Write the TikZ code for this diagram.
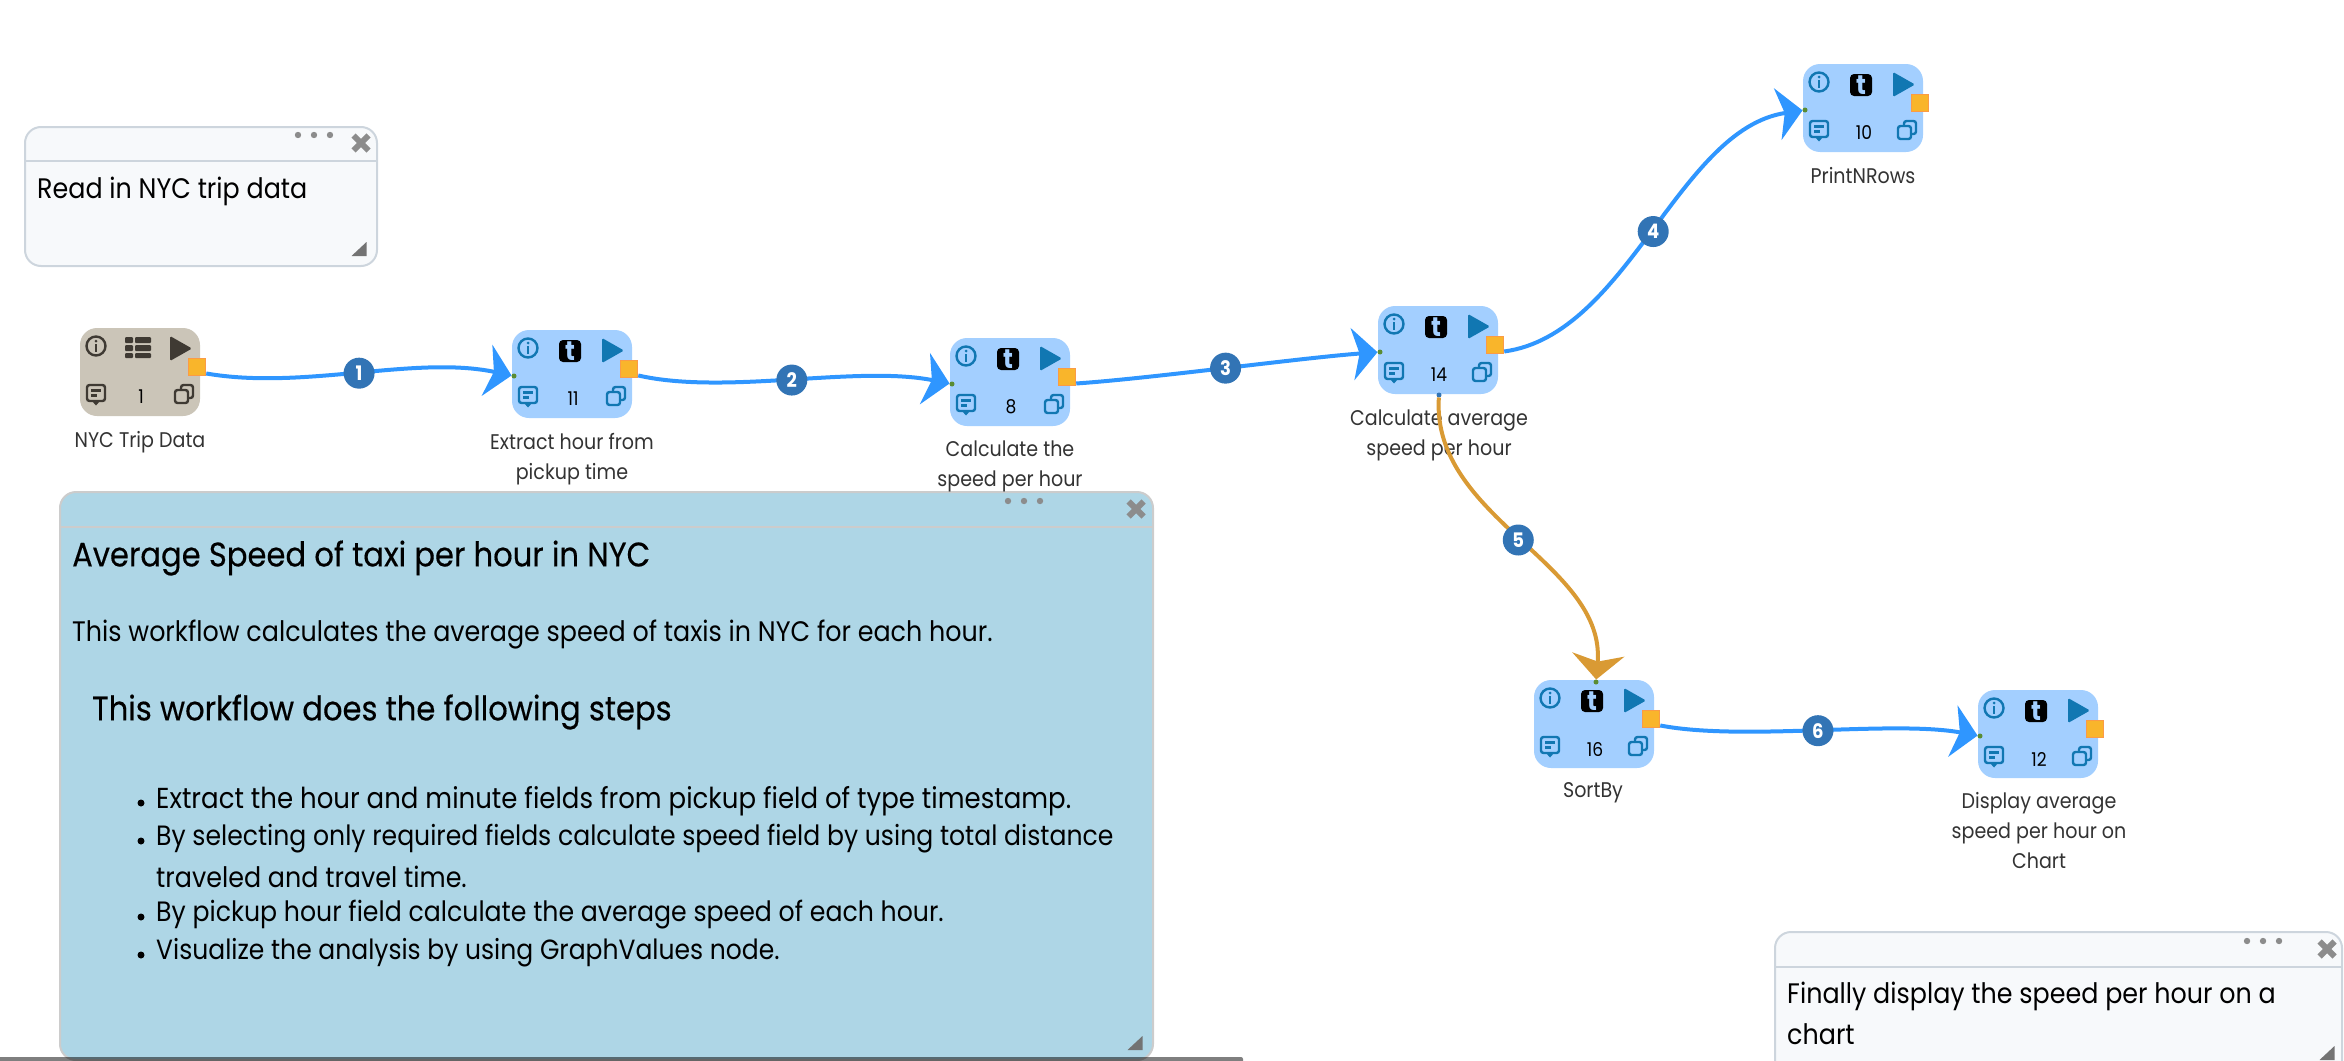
\documentclass[tikz,border=0pt]{standalone}
\usepackage{fontspec}
\setmainfont[FakeStretch=0.9]{Poppins}
\newfontface\headfont[FakeStretch=0.9,FakeBold=0.3]{Poppins}
\usetikzlibrary{arrows.meta,shapes.geometric}

\definecolor{flowblue}{RGB}{47,150,255}
\definecolor{flowgold}{RGB}{217,154,52}
\definecolor{badgeblue}{RGB}{50,116,181}
\definecolor{boxblue}{RGB}{163,207,255}
\definecolor{boxgray}{RGB}{203,197,184}
\definecolor{iconblue}{RGB}{17,119,178}
\definecolor{icongray}{RGB}{63,58,51}
\definecolor{portfill}{RGB}{249,181,43}
\definecolor{portedge}{RGB}{251,155,70}
\definecolor{notefill}{RGB}{247,249,251}
\definecolor{noteedge}{RGB}{205,213,221}
\definecolor{bigfill}{RGB}{174,214,230}
\definecolor{portgreen}{RGB}{90,140,50}

\tikzset{
  wfbox/.style={rounded corners=17pt,minimum width=120pt,minimum height=88pt,inner sep=0pt,outer sep=0pt},
  wfport/.style={draw=portedge,line width=1.5pt,fill=portfill,minimum size=17pt,inner sep=0pt},
  wfdot/.style={circle,fill=#1,minimum size=5pt,inner sep=0pt,outer sep=0pt},
  wflabel/.style={font=\fontsize{21.2}{30}\selectfont,text=black!80,align=center,inner sep=0pt},
  wfnum/.style={font=\fontsize{19}{20}\selectfont,inner sep=0pt},
  flowline/.style={line width=4pt,flowblue,-{Stealth[length=25pt,width=52pt,inset=7pt]}},
  goldline/.style={flowline,flowgold},
  badge/.style={circle,fill=badgeblue,text=white,minimum size=31pt,inner sep=0pt,font=\fontsize{20}{20}\selectfont\bfseries},
  notebox/.style={draw=noteedge,line width=2pt,fill=notefill,rounded corners=16pt,anchor=north west,inner sep=0pt,outer sep=0pt},
  notetext/.style={font=\fontsize{28.2}{38}\selectfont,anchor=west,inner sep=0pt,align=left},
  notehead/.style={notetext,font=\fontsize{34}{38}\headfont},
  notemark/.style={line width=6pt,black!45},
}

% #1 name, #2 number, #3 box colour, #4 icon colour
\newcommand{\wficons}[4]{%
  \node[wfbox,fill=#3] (#1) at (0,0) {};
  \draw[#4,line width=2.4pt] (-44,-26) circle (9.5);
  \fill[#4] (-44,-31) circle (1.5);
  \draw[#4,line width=2.4pt] (-44,-28) -- (-44,-20);
  \fill[#4,rounded corners=1.5pt] (30,-36) -- (52,-23.5) -- (30,-11) -- cycle;
  \draw[#4,line width=2.4pt,rounded corners=2.5pt] (-53,13) rectangle (-35,29);
  \fill[#4] (-48,29) -- (-44,33.5) -- (-40,29) -- cycle;
  \draw[#4,line width=2.2pt] (-49,18.5) -- (-39,18.5) (-49,23.5) -- (-43,23.5);
  \draw[#4,line width=2.4pt,rounded corners=2.5pt] (41,18) -- (41,13) -- (53,13) -- (53,26) -- (48,26);
  \draw[#4,line width=2.4pt,rounded corners=2.5pt] (35,18) rectangle (48,31);
  \node[wfnum] (#1num) at (1,25) {#2};
  \node[wfport] (#1out) at (57,-5) {};
}
\newcommand{\tlogo}[1]{%
  \node[fill=black,rounded corners=4pt,minimum size=22pt,inner sep=0pt,text=boxblue,font=\fontsize{27}{22}\selectfont\bfseries] (#1logo) at (-2,-23) {t};
}
% close mark at #1,#2 and three dots, the first one #3 to the left
\newcommand{\notemarks}[3]{%
  \draw[notemark] (#1-7.5,#2-7.5) -- (#1+7.5,#2+7.5) (#1+7.5,#2-7.5) -- (#1-7.5,#2+7.5);
  \foreach \d in {0,16,32} \fill[black!45] (#1-#3+\d,#2-8) circle (3.2);
}
\newcommand{\notegrip}[2]{%
  \fill[black!55] (#1+7.5,#2-7) -- (#1+7.5,#2+7) -- (#1-7.5,#2+7) -- cycle;
}

\begin{document}
\begin{tikzpicture}[x=1pt,y=1pt,yscale=-1,xscale=1]
\useasboundingbox (0,0) rectangle (2344,1060);
\clip (0,0) rectangle (2344,1060);

%Note top left
\node[notebox,minimum width=352pt,minimum height=139pt] (noteread) at (25,127) {};
\draw[noteedge,line width=2pt] (noteread.west |- 0,161) -- (noteread.east |- 0,161);
\notemarks{361}{143}{63}
\notegrip{359}{249}
\node[notetext] (readtext) at (37,191) {Read in NYC trip data};

%Note big
\node[notebox,draw=black!20,fill=bigfill,minimum width=1093pt,minimum height=568pt] (notebig) at (60,492) {};
\draw[black!20,line width=2pt] (notebig.west |- 0,527) -- (notebig.east |- 0,527);
\notemarks{1136}{509}{128}
\notegrip{1135}{1043}
\node[notehead] (bighead) at (72,558) {Average Speed of taxi per hour in NYC};
\node[notetext] (bigbody) at (72,635) {This workflow calculates the average speed of taxis in NYC for each hour.};
\node[notehead] (stephead) at (92,712) {This workflow does the following steps};
\node[notetext,font=\fontsize{28.9}{38}\selectfont] (stepa) at (156,801) {Extract the hour and minute fields from pickup field of type timestamp.};
\node[notetext,font=\fontsize{27.9}{38}\selectfont] (stepb) at (156,839) {By selecting only required fields calculate speed field by using total distance};
\node[notetext] (stepc) at (156,877) {traveled and travel time.};
\node[notetext,font=\fontsize{28}{38}\selectfont] (stepd) at (156,915) {By pickup hour field calculate the average speed of each hour.};
\node[notetext,font=\fontsize{27.8}{38}\selectfont] (stepe) at (156,953) {Visualize the analysis by using GraphValues node.};
\foreach \y in {801,839,915,953} \fill (141,\y+2) circle (3.5);

%Note bottom right
\node[notebox,minimum width=567pt,minimum height=160pt] (notechart) at (1775,932) {};
\draw[noteedge,line width=2pt] (notechart.west |- 0,967) -- (notechart.east |- 0,967);
\notemarks{2327}{949}{80}
\notegrip{2327}{1053}
\node[notetext] (charta) at (1787,996) {Finally display the speed per hour on a};
\node[notetext] (chartb) at (1787,1034) {chart};

%Bar at the lower edge
\fill[black,opacity=0.5,rounded corners=2pt] (-5,1057) rectangle (1243,1066);

%Workflow nodes
\begin{scope}[shift={(140,372)}]
\wficons{nyc}{1}{boxgray}{icongray}
\fill[icongray,rounded corners=1pt] (-15,-35) rectangle (-7,-29) (-5,-35) rectangle (11,-29) (-15,-27) rectangle (-7,-21) (-5,-27) rectangle (11,-21) (-15,-19) rectangle (-7,-14) (-5,-19) rectangle (11,-14);
\end{scope}
\node[wflabel] (nyclabel) at (140,442) {NYC Trip Data};

\begin{scope}[shift={(572,374)}]
\wficons{extract}{11}{boxblue}{iconblue}
\tlogo{extract}
\node[wfdot=portgreen] (extractin) at (-58,2) {};
\end{scope}
\node[wflabel] (extractlabel) at (572,459) {Extract hour from\\pickup time};

\begin{scope}[shift={(1010,382)}]
\wficons{speed}{8}{boxblue}{iconblue}
\tlogo{speed}
\node[wfdot=portgreen] (speedin) at (-58,2) {};
\end{scope}
\node[wflabel] (speedlabel) at (1010,466) {Calculate the\\speed per hour};

\begin{scope}[shift={(1438,350)}]
\wficons{avg}{14}{boxblue}{iconblue}
\tlogo{avg}
\node[wfdot=portgreen] (avgin) at (-58,2) {};
\node[wfdot=badgeblue] (avgdown) at (1,45) {};
\end{scope}
\node[wflabel] (avglabel) at (1439,435) {Calculate average\\speed per hour};

\begin{scope}[shift={(1863,108)}]
\wficons{print}{10}{boxblue}{iconblue}
\tlogo{print}
\node[wfdot=portgreen] (printin) at (-58,2) {};
\end{scope}
\node[wflabel] (printlabel) at (1863,176) {PrintNRows};

\begin{scope}[shift={(1594,724)}]
\wficons{sort}{16}{boxblue}{iconblue}
\tlogo{sort}
\node[wfdot=portgreen] (sortin) at (2,-42) {};
\end{scope}
\node[wflabel] (sortlabel) at (1593,793) {SortBy};

\begin{scope}[shift={(2038,734)}]
\wficons{chart}{12}{boxblue}{iconblue}
\tlogo{chart}
\node[wfdot=portgreen] (chartin) at (-58,2) {};
\end{scope}
\node[wflabel] (chartlabel) at (2039,831) {Display average\\speed per hour on\\Chart};

%Connectors
\draw[flowline] (nycout.-35) .. controls +(98,17) and +(-100,-21) .. node[badge] (ba) {1} (extractin);
\draw[flowline] (extractout.-35) .. controls +(88,20) and +(-96,-19) .. node[badge] (bb) {2} (speedin);
\draw[flowline] (speedout.-35) .. controls +(74,-5) and +(-80,6) .. node[badge] (bc) {3} (avgin);
\draw[flowline] (avgout.-35) .. controls +(124,-17) and +(-127,19) .. node[badge] (bd) {4} (printin);
\draw[goldline] (avgdown) .. controls +(-8,123) and +(10,-119) .. node[badge] (be) {5} (sortin);
\draw[flowline] (sortout.-35) .. controls +(83,16) and +(-88,-16) .. node[badge] (bf) {6} (chartin);

\end{tikzpicture}
\end{document}
